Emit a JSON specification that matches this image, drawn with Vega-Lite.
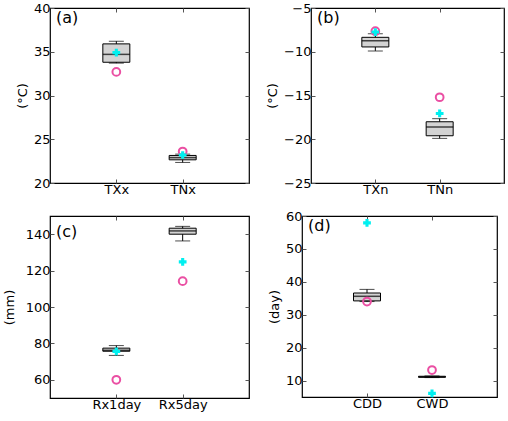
{
  "$schema": "https://vega.github.io/schema/vega-lite/v6.json",
  "background": "white",
  "padding": {"left": 2, "top": 1, "right": 2, "bottom": 2},
  "config": {
    "font": "DejaVu Sans",
    "view": {"stroke": "#000", "strokeWidth": 1.2},
    "axis": {"labelFontSize": 13, "titleFontSize": 13, "titleFontWeight": "normal", "labelColor": "#000", "titleColor": "#000", "grid": false, "domain": false, "tickSize": -4, "tickColor": "#555", "labelPadding": 4},
    "title": {"fontWeight": "normal", "fontSize": 16, "color": "#000"}
  },
  "datasets": {
    "box": [
      {"panel": "a", "var": "TXx", "lower": 33.7, "q1": 33.8, "median": 34.7, "q3": 35.9, "upper": 36.2, "model": 34.9, "obs": 32.7},
      {"panel": "a", "var": "TNx", "lower": 22.35, "q1": 22.65, "median": 22.9, "q3": 23.15, "upper": 23.3, "model": 23.2, "obs": 23.6},
      {"panel": "b", "var": "TXn", "lower": -9.9, "q1": -9.45, "median": -8.75, "q3": -8.35, "upper": -7.95, "model": -7.75, "obs": -7.65},
      {"panel": "b", "var": "TNn", "lower": -19.9, "q1": -19.6, "median": -18.6, "q3": -18.0, "upper": -17.65, "model": -17.05, "obs": -15.2},
      {"panel": "c", "var": "Rx1day", "lower": 73.4, "q1": 75.7, "median": 76.2, "q3": 77.4, "upper": 78.8, "model": 75.6, "obs": 60.0},
      {"panel": "c", "var": "Rx5day", "lower": 136.3, "q1": 140.0, "median": 141.8, "q3": 143.3, "upper": 144.3, "model": 124.8, "obs": 114.2},
      {"panel": "d", "var": "CDD", "lower": 34.0, "q1": 34.2, "median": 35.6, "q3": 36.6, "upper": 37.7, "model": 57.9, "obs": 34.0},
      {"panel": "d", "var": "CWD", "lower": 10.9, "q1": 11.0, "median": 11.1, "q3": 11.3, "upper": 11.4, "model": 6.1, "obs": 13.2}
    ]
  },
  "vconcat": [
    {
      "hconcat": [
        {
          "width": 199, "height": 175,
          "title": {"text": "(a)", "anchor": "start", "frame": "group", "offset": -24, "dx": 6},
          "data": {"name": "box"},
          "transform": [{"filter": "datum.panel === 'a'"}],
          "encoding": {"x": {"field": "var", "type": "nominal", "sort": null, "scale": {"type": "point", "padding": 1}, "axis": null}},
          "resolve": {"axis": {"x": "independent", "y": "independent"}},
          "layer": [
            {"mark": {"type": "rule", "color": "#000", "strokeWidth": 1},
             "encoding": {"x": {"field": "var", "type": "nominal", "sort": null, "axis": {"title": null, "labelAngle": 0}},
                          "y": {"field": "lower", "type": "quantitative", "scale": {"domain": [20, 40], "nice": false, "zero": false}, "axis": {"title": "(°C)", "values": [20, 25, 30, 35, 40]}},
                          "y2": {"field": "upper"}}},
            {"mark": {"type": "bar", "fill": "#d3d3d3", "stroke": "#000", "strokeWidth": 1, "size": 27},
             "encoding": {"y": {"field": "q1", "type": "quantitative", "axis": null}, "y2": {"field": "q3"}}},
            {"mark": {"type": "tick", "color": "#000", "size": 27, "thickness": 1.5},
             "encoding": {"y": {"field": "median", "type": "quantitative", "axis": null}}},
            {"mark": {"type": "tick", "color": "#000", "size": 15, "thickness": 1},
             "encoding": {"y": {"field": "lower", "type": "quantitative", "axis": null}}},
            {"mark": {"type": "tick", "color": "#000", "size": 15, "thickness": 1},
             "encoding": {"y": {"field": "upper", "type": "quantitative", "axis": null}}},
            {"mark": {"type": "point", "shape": "circle", "filled": false, "stroke": "#ea4fa3", "strokeWidth": 2, "size": 60, "opacity": 1},
             "encoding": {"x": {"field": "var", "type": "nominal", "sort": null, "axis": {"orient": "top", "labels": false, "title": null}},
                          "y": {"field": "obs", "type": "quantitative", "axis": {"orient": "right", "labels": false, "title": null, "values": [20, 25, 30, 35, 40]}}}},
            {"mark": {"type": "point", "shape": "cross", "filled": true, "fill": "#00f0f0", "strokeWidth": 0, "size": 60, "opacity": 1},
             "encoding": {"y": {"field": "model", "type": "quantitative", "axis": null}}}
          ]
        },
        {
          "width": 193, "height": 175,
          "title": {"text": "(b)", "anchor": "start", "frame": "group", "offset": -24, "dx": 6},
          "data": {"name": "box"},
          "transform": [{"filter": "datum.panel === 'b'"}],
          "encoding": {"x": {"field": "var", "type": "nominal", "sort": null, "scale": {"type": "point", "padding": 1}, "axis": null}},
          "resolve": {"axis": {"x": "independent", "y": "independent"}},
          "layer": [
            {"mark": {"type": "rule", "color": "#000", "strokeWidth": 1},
             "encoding": {"x": {"field": "var", "type": "nominal", "sort": null, "axis": {"title": null, "labelAngle": 0}},
                          "y": {"field": "lower", "type": "quantitative", "scale": {"domain": [-25, -5], "nice": false, "zero": false}, "axis": {"title": "(°C)", "values": [-25, -20, -15, -10, -5]}},
                          "y2": {"field": "upper"}}},
            {"mark": {"type": "bar", "fill": "#d3d3d3", "stroke": "#000", "strokeWidth": 1, "size": 27},
             "encoding": {"y": {"field": "q1", "type": "quantitative", "axis": null}, "y2": {"field": "q3"}}},
            {"mark": {"type": "tick", "color": "#000", "size": 27, "thickness": 1.5},
             "encoding": {"y": {"field": "median", "type": "quantitative", "axis": null}}},
            {"mark": {"type": "tick", "color": "#000", "size": 15, "thickness": 1},
             "encoding": {"y": {"field": "lower", "type": "quantitative", "axis": null}}},
            {"mark": {"type": "tick", "color": "#000", "size": 15, "thickness": 1},
             "encoding": {"y": {"field": "upper", "type": "quantitative", "axis": null}}},
            {"mark": {"type": "point", "shape": "circle", "filled": false, "stroke": "#ea4fa3", "strokeWidth": 2, "size": 60, "opacity": 1},
             "encoding": {"x": {"field": "var", "type": "nominal", "sort": null, "axis": {"orient": "top", "labels": false, "title": null}},
                          "y": {"field": "obs", "type": "quantitative", "axis": {"orient": "right", "labels": false, "title": null, "values": [-25, -20, -15, -10, -5]}}}},
            {"mark": {"type": "point", "shape": "cross", "filled": true, "fill": "#00f0f0", "strokeWidth": 0, "size": 60, "opacity": 1},
             "encoding": {"y": {"field": "model", "type": "quantitative", "axis": null}}}
          ]
        }
      ],
      "spacing": 14
    },
    {
      "hconcat": [
        {
          "width": 199, "height": 182,
          "title": {"text": "(c)", "anchor": "start", "frame": "group", "offset": -24, "dx": 6},
          "data": {"name": "box"},
          "transform": [{"filter": "datum.panel === 'c'"}],
          "encoding": {"x": {"field": "var", "type": "nominal", "sort": null, "scale": {"type": "point", "padding": 1}, "axis": null}},
          "resolve": {"axis": {"x": "independent", "y": "independent"}},
          "layer": [
            {"mark": {"type": "rule", "color": "#000", "strokeWidth": 1},
             "encoding": {"x": {"field": "var", "type": "nominal", "sort": null, "axis": {"title": null, "labelAngle": 0}},
                          "y": {"field": "lower", "type": "quantitative", "scale": {"domain": [50, 150], "nice": false, "zero": false}, "axis": {"title": "(mm)", "titlePadding": 9, "values": [60, 80, 100, 120, 140]}},
                          "y2": {"field": "upper"}}},
            {"mark": {"type": "bar", "fill": "#d3d3d3", "stroke": "#000", "strokeWidth": 1, "size": 27},
             "encoding": {"y": {"field": "q1", "type": "quantitative", "axis": null}, "y2": {"field": "q3"}}},
            {"mark": {"type": "tick", "color": "#000", "size": 27, "thickness": 1.5},
             "encoding": {"y": {"field": "median", "type": "quantitative", "axis": null}}},
            {"mark": {"type": "tick", "color": "#000", "size": 15, "thickness": 1},
             "encoding": {"y": {"field": "lower", "type": "quantitative", "axis": null}}},
            {"mark": {"type": "tick", "color": "#000", "size": 15, "thickness": 1},
             "encoding": {"y": {"field": "upper", "type": "quantitative", "axis": null}}},
            {"mark": {"type": "point", "shape": "circle", "filled": false, "stroke": "#ea4fa3", "strokeWidth": 2, "size": 60, "opacity": 1},
             "encoding": {"x": {"field": "var", "type": "nominal", "sort": null, "axis": {"orient": "top", "labels": false, "title": null}},
                          "y": {"field": "obs", "type": "quantitative", "axis": {"orient": "right", "labels": false, "title": null, "values": [60, 80, 100, 120, 140]}}}},
            {"mark": {"type": "point", "shape": "cross", "filled": true, "fill": "#00f0f0", "strokeWidth": 0, "size": 60, "opacity": 1},
             "encoding": {"y": {"field": "model", "type": "quantitative", "axis": null}}}
          ]
        },
        {
          "width": 195, "height": 181,
          "title": {"text": "(d)", "anchor": "start", "frame": "group", "offset": -24, "dx": 6},
          "data": {"name": "box"},
          "transform": [{"filter": "datum.panel === 'd'"}],
          "encoding": {"x": {"field": "var", "type": "nominal", "sort": null, "scale": {"type": "point", "padding": 1}, "axis": null}},
          "resolve": {"axis": {"x": "independent", "y": "independent"}},
          "layer": [
            {"mark": {"type": "rule", "color": "#000", "strokeWidth": 1},
             "encoding": {"x": {"field": "var", "type": "nominal", "sort": null, "axis": {"title": null, "labelAngle": 0}},
                          "y": {"field": "lower", "type": "quantitative", "scale": {"domain": [5, 60], "nice": false, "zero": false}, "axis": {"title": "(day)", "values": [10, 20, 30, 40, 50, 60]}},
                          "y2": {"field": "upper"}}},
            {"mark": {"type": "bar", "fill": "#d3d3d3", "stroke": "#000", "strokeWidth": 1, "size": 27},
             "encoding": {"y": {"field": "q1", "type": "quantitative", "axis": null}, "y2": {"field": "q3"}}},
            {"mark": {"type": "tick", "color": "#000", "size": 27, "thickness": 1.5},
             "encoding": {"y": {"field": "median", "type": "quantitative", "axis": null}}},
            {"mark": {"type": "tick", "color": "#000", "size": 15, "thickness": 1},
             "encoding": {"y": {"field": "lower", "type": "quantitative", "axis": null}}},
            {"mark": {"type": "tick", "color": "#000", "size": 15, "thickness": 1},
             "encoding": {"y": {"field": "upper", "type": "quantitative", "axis": null}}},
            {"mark": {"type": "point", "shape": "circle", "filled": false, "stroke": "#ea4fa3", "strokeWidth": 2, "size": 60, "opacity": 1},
             "encoding": {"x": {"field": "var", "type": "nominal", "sort": null, "axis": {"orient": "top", "labels": false, "title": null}},
                          "y": {"field": "obs", "type": "quantitative", "axis": {"orient": "right", "labels": false, "title": null, "values": [10, 20, 30, 40, 50, 60]}}}},
            {"mark": {"type": "point", "shape": "cross", "filled": true, "fill": "#00f0f0", "strokeWidth": 0, "size": 60, "opacity": 1},
             "encoding": {"y": {"field": "model", "type": "quantitative", "axis": null}}}
          ]
        }
      ],
      "spacing": 16
    }
  ],
  "spacing": 12
}
